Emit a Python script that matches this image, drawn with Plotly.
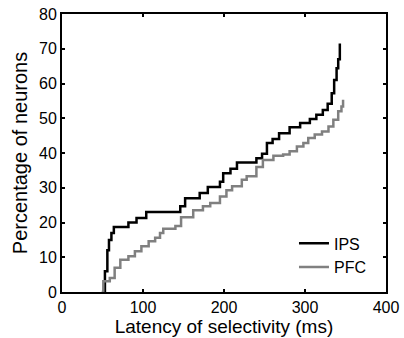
import plotly.graph_objects as go

# IPS cumulative curve (latency ms, % neurons) step points
ips_x = [50, 53, 56, 58, 61, 64, 82, 92, 104, 146, 152, 170, 180, 195, 199, 208, 216,
         240, 247, 253, 260, 268, 281, 294, 306, 314, 322, 328, 333, 336, 339, 341, 343]
ips_y = [0, 6, 12, 15, 17, 18.7, 20, 21.3, 23, 24.7, 27, 28.5, 30.2, 31.7, 34.2, 35.5, 37.3,
         38.5, 39.8, 42.9, 44, 45.7, 47.4, 48.6, 49.8, 51, 52.4, 54.2, 57.2, 61, 64.4, 67, 71.5]

# PFC cumulative curve
pfc_x = [49, 51, 59, 65, 72, 82, 90, 98, 107, 115, 121, 125, 140, 147, 162, 174, 183, 195,
         203, 210, 222, 228, 240, 248, 261, 273, 281, 290, 298, 304, 312, 321, 329, 335, 341, 345, 347]
pfc_y = [0, 3.1, 4, 7, 9.3, 10.3, 11.7, 13.2, 14.6, 15.6, 17, 18.2, 19, 21.5, 23.5, 24.7, 25.6, 27.5,
         29.3, 30.4, 32.3, 33.3, 36, 38, 39.2, 39.6, 40.5, 41.9, 42.9, 44.3, 45.3, 46.2, 47.6, 49.6, 52, 53.4, 55.3]

x_ticks = [0, 100, 200, 300, 400]
y_ticks = [0, 10, 20, 30, 40, 50, 60, 70, 80]

fig = go.Figure()
fig.add_trace(go.Scatter(x=ips_x, y=ips_y, mode="lines", name="IPS",
                         line=dict(color="black", width=2.5, shape="hv")))
fig.add_trace(go.Scatter(x=pfc_x, y=pfc_y, mode="lines", name="PFC",
                         line=dict(color="#808080", width=2.5, shape="hv")))

axis_common = dict(showline=True, linecolor="black", linewidth=2, mirror="ticks",
                   ticks="inside", ticklen=3, tickwidth=1.5, tickcolor="black",
                   showgrid=False, zeroline=False, automargin=False,
                   ticklabeloverflow="allow",
                   tickfont=dict(size=16, color="black"))

fig.update_layout(
    width=404, height=338,
    margin=dict(l=62, r=18, t=14, b=46),
    paper_bgcolor="white", plot_bgcolor="white",
    font=dict(family="Liberation Sans, Arial, sans-serif", size=16, color="black"),
    xaxis=dict(range=[0, 400], tickvals=x_ticks,
               title=dict(text="Latency of selectivity (ms)", font=dict(size=19), standoff=2),
               **axis_common),
    yaxis=dict(range=[0, 80], tickvals=y_ticks,
               title=dict(text="Percentage of neurons", font=dict(size=20), standoff=6),
               **axis_common),
    legend=dict(x=0.716, y=0.236, xanchor="left", yanchor="top",
                bgcolor="rgba(0,0,0,0)", font=dict(size=16), tracegroupgap=0),
    showlegend=True,
)

# remove the default page margin so the figure sits at the window's top-left corner
fig.write_html("out.html", config={"displayModeBar": False},
               post_script="document.body.style.margin='0';")
